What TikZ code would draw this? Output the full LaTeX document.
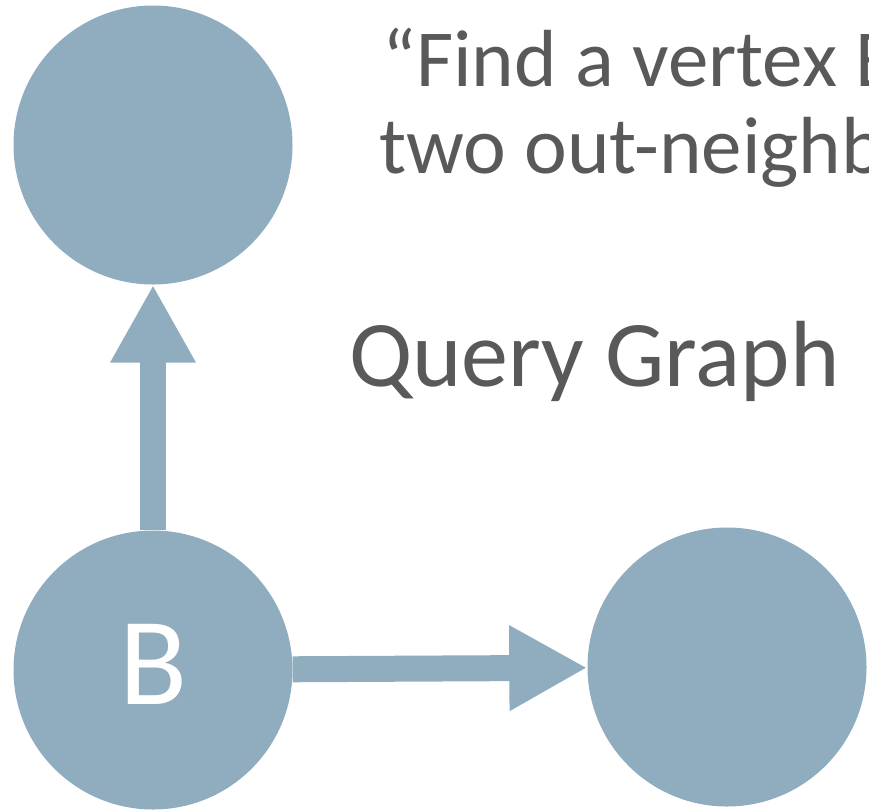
\documentclass[tikz,border=0pt]{standalone}
\usepackage{fontspec}
\setmainfont{Carlito}
\usetikzlibrary{arrows.meta}
\definecolor{vertexblue}{HTML}{8FADBF}
\definecolor{textgrey}{HTML}{595959}
\tikzset{
  vertex/.style={circle, fill=vertexblue, draw=none, minimum size=279pt, inner sep=0pt,
    text=white, font=\fontsize{125}{125}\selectfont, text height=80pt, text depth=11pt},
  edge/.style={draw=vertexblue, line width=26pt,
    -{Triangle[length=78pt, width=80pt]}},
  caption/.style={text=textgrey, anchor=base west, inner sep=0pt},
}
\begin{document}
\begin{tikzpicture}[x=1pt, y=-1pt]
  \useasboundingbox (0,0) rectangle (869,809);
  \clip (0,0) rectangle (869,809);

  % vertices of the query graph
  \node[vertex] (top) at (153,145) {};
  \node[vertex] (b) at (153,670) {B};
  \node[vertex] (right) at (727,667) {};

  % out-edges of B
  \draw[edge] (b) -- (top);
  \draw[edge] (b) -- (right);

  % captions
  \node[caption, font=\fontsize{81}{87}\selectfont] (line1) at (382,86) {“Find a vertex B};
  \node[caption, font=\fontsize{81}{87}\selectfont] (line2) at (379,173) {two out-neighb};
  \node[caption, font=\fontsize{94}{94}\selectfont] (title) at (349,386) {Query Graph};
\end{tikzpicture}
\end{document}
